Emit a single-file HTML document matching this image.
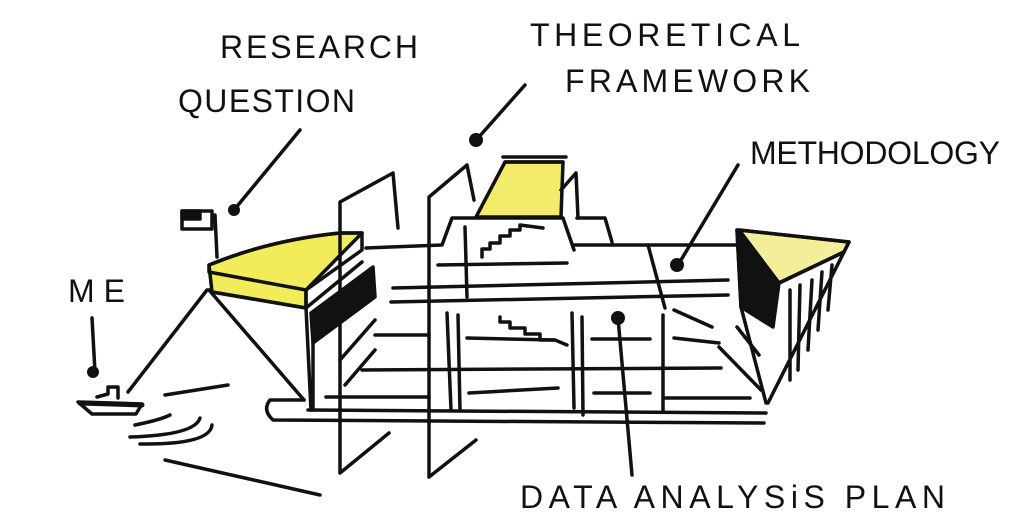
<!DOCTYPE html>
<html><head><meta charset="utf-8"><style>
html,body{margin:0;padding:0;background:#fff;}
svg{display:block}
text{font-family:"Liberation Sans",sans-serif;font-size:32px;fill:#111}
</style></head><body>
<svg width="1024" height="524" viewBox="0 0 1024 524" xmlns="http://www.w3.org/2000/svg">
<g stroke="#111" stroke-width="3.5" fill="none" stroke-linecap="round" stroke-linejoin="round">
<path d="M209,265 Q270,240 340,233 L362,233 L306,290 L306,308 L212,292 Z" fill="#f2ec5a"/>
<path d="M476,217 L505,162 L563,162 L561,217 Z" fill="#f2ec6a"/>
<path d="M739,230 L849,242 L844,252 L779,283 Z" fill="#f4ee9a"/>
<path d="M209,265 Q270,240 340,233 L362,233 L362,250 L306,290 L209,272 Z"/>
<path d="M212,292 L306,308 L306,290 M306,308 L362,262"/>
<path d="M311,313 L373,267 L375,297 L313,343 Z" fill="#111"/>
<path d="M209,290 L304,400 M306,308 L311,410 M313,343 L313,410 M340,360 L375,320 M345,385 L375,350"/>
<path d="M207,290 L128,392"/>
<path d="M304,400 L270,400 Q262,410 273,420 L764,423 M308,410 L766,413"/>
<path d="M215,215 L217,257"/>
<rect x="182" y="211" width="30" height="18" fill="#fff"/>
<rect x="182" y="211" width="18" height="8" fill="#111"/>
<path d="M366,248 L442,245 L452,218 L563,218 L574,250 M577,218 L605,218 L612,242 M574,245 L737,245"/>
<path d="M505,162 L563,162 M503,157 L566,157"/>
<path d="M482,257 L482,249 L490,249 L490,243 L500,243 L500,236 L510,236 L510,230 L520,230 L520,225 L543,228"/>
<path d="M500,317 L500,322 L510,322 L510,328 L525,328 L525,334 L540,334 L540,340 L555,340 L567,345"/>
<path d="M438,265 L567,263 M393,288 L728,280 M391,302 L728,295 M362,370 L721,368 M326,397 L429,397 M469,393 L558,388 M594,393 L650,393 M665,398 L750,398 M375,335 L429,335 M467,338 L554,340 M592,339 L650,339 M674,338 L719,343 M674,310 L712,327"/>
<path d="M447,313 L451,410 M458,315 L460,410 M572,313 L574,408 M582,317 L583,415 M663,315 L663,412 M648,245 L665,308 M737,327 L759,355 M719,347 L761,390"/>
<path d="M340,473 L340,202 L393,173 L398,228 M340,473 L389,433"/>
<path d="M429,477 L429,197 L467,165 L474,200 M429,477 L476,440 M465,227 L467,297"/>
<path d="M576,173 L578,218 M561,190 L576,173"/>
<path d="M739,230 L849,242 L844,252 L779,283 Z"/>
<path d="M737,230 L779,283 L773,327 L741,307 Z" fill="#111"/>
<path d="M737,230 L741,307 L766,403 M779,283 L844,252 L768,403 M790,290 L790,380 M800,285 L798,370 M812,280 L808,350 M822,272 L818,330 M832,265 L828,310"/>
<path d="M165,395 L228,385 M135,425 Q160,420 170,415 M130,437 Q195,435 200,418 M140,444 Q210,445 212,425 M165,460 L320,495"/>
<path d="M78,402 L142,404 L136,414 L92,414 Z" fill="#fff"/>
<path d="M80,403 L142,405" stroke-width="5"/>
<path d="M97,397 L108,394 L108,387 L118,387 L118,398"/>
<path d="M300,130 L234,210 M525,85 L478,138 M738,165 L678,265 M92,318 L95,372 M618,318 L632,475"/>
</g>
<g fill="#111">
<circle cx="234" cy="210" r="6"/><circle cx="476" cy="140" r="7"/><circle cx="677" cy="265" r="7"/>
<circle cx="93" cy="372" r="6"/><circle cx="618" cy="318" r="7"/>
</g>
<text x="220" y="58" textLength="198" lengthAdjust="spacing">RESEARCH</text>
<text x="178" y="112" textLength="177" lengthAdjust="spacing">QUESTION</text>
<text x="530" y="46" textLength="270" lengthAdjust="spacing">THEORETICAL</text>
<text x="565" y="92" textLength="245" lengthAdjust="spacing">FRAMEWORK</text>
<text x="750" y="164" textLength="250" lengthAdjust="spacing">METHODOLOGY</text>
<text x="68" y="302" textLength="57" lengthAdjust="spacing">ME</text>
<text x="520" y="508" textLength="425" lengthAdjust="spacing">DATA ANALYSiS PLAN</text>
</svg>
</body></html>
